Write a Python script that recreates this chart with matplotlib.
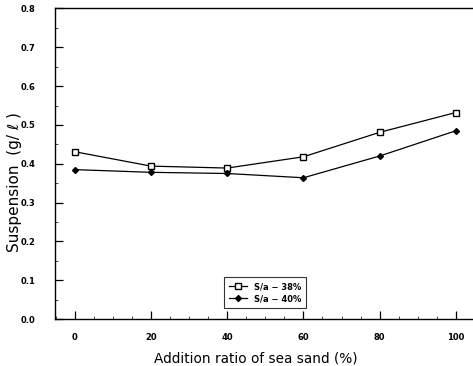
import matplotlib
matplotlib.use("Agg")
import matplotlib.pyplot as plt
from matplotlib.ticker import MultipleLocator

ratio = [0, 20, 40, 60, 80, 100]
sa38 = [0.431, 0.394, 0.389, 0.418, 0.481, 0.532]
sa40 = [0.385, 0.378, 0.375, 0.364, 0.420, 0.485]
xticks = [0, 20, 40, 60, 80, 100]
yticks = [0.0, 0.1, 0.2, 0.3, 0.4, 0.5, 0.6, 0.7, 0.8]
ytick_labels = ["0.0", "0.1", "0.2", "0.3", "0.4", "0.5", "0.6", "0.7", "0.8"]

fig = plt.figure(figsize=(4.73, 3.66), dpi=100)
ax = fig.add_axes([0.1163, 0.128, 0.8837, 0.849])

ax.plot(ratio, sa38, color="black", lw=0.9, marker="s", ms=4.5, mfc="white",
        mec="black", mew=1.0, label="S/a \u2212 38%")
ax.plot(ratio, sa40, color="black", lw=0.9, marker="D", ms=3, mfc="black",
        mec="black", label="S/a \u2212 40%")

ax.set_xlim(-5.2, 104.5)
ax.set_ylim(0.0, 0.8)
ax.set_xticks(xticks)
ax.set_xticklabels([str(v) for v in xticks])
ax.set_yticks(yticks)
ax.set_yticklabels(ytick_labels)
ax.xaxis.set_minor_locator(MultipleLocator(5))
ax.yaxis.set_minor_locator(MultipleLocator(0.05))

ax.tick_params(axis="both", which="major", direction="in", length=6, width=0.9,
               labelsize=6, top=False, right=False)
ax.tick_params(axis="both", which="minor", direction="in", length=2, width=0.5,
               top=False, right=False)
ax.tick_params(axis="y", which="major", pad=14)
ax.tick_params(axis="x", which="major", pad=10)
for lab in ax.get_xticklabels() + ax.get_yticklabels():
    lab.set_fontweight("bold")

ax.spines["right"].set_visible(False)
for s in ["left", "bottom", "top"]:
    ax.spines[s].set_linewidth(1.0)

ax.set_xlabel("Addition ratio of sea sand (%)", fontsize=9.8)
ax.xaxis.set_label_coords(0.48, -0.105)
ax.set_ylabel("Suspension  (g/ \u2113 )", fontsize=11)
ax.yaxis.set_label_coords(-0.08, 0.44)

leg = ax.legend(loc="lower center", bbox_to_anchor=(0.503, 0.022),
                frameon=True, fancybox=False, edgecolor="black",
                handlelength=2.2, borderpad=0.6, labelspacing=0.35,
                prop={"weight": "bold", "size": 6})
leg.get_frame().set_linewidth(0.8)

fig.savefig("out.png", dpi=100)
